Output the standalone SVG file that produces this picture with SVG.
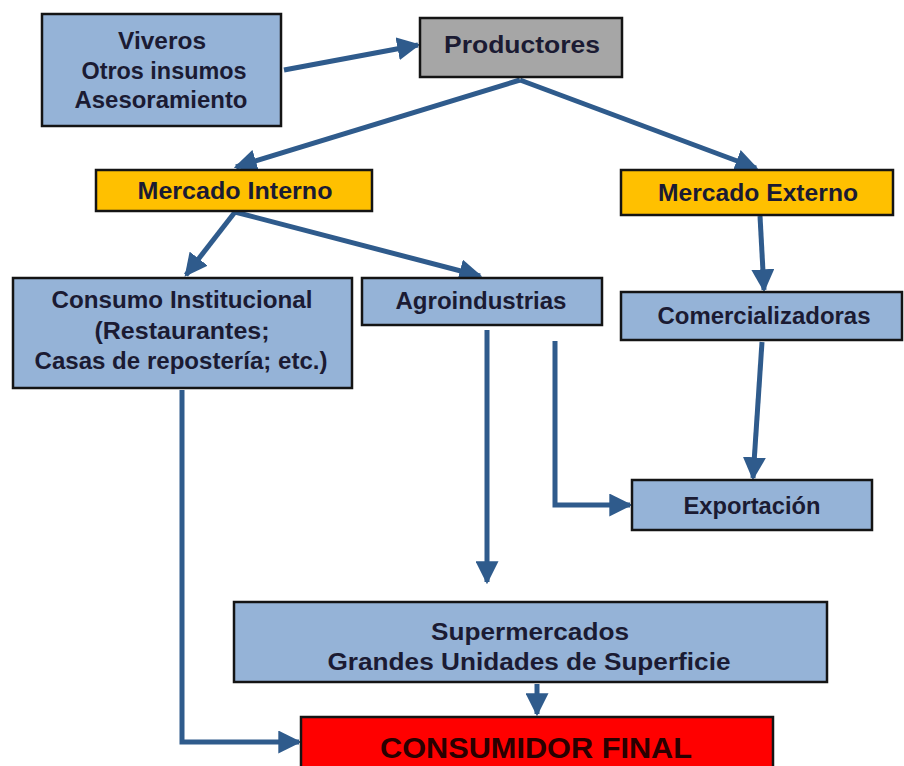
<svg xmlns="http://www.w3.org/2000/svg" width="904" height="766" viewBox="0 0 904 766">
<defs>
<style>
.box{stroke:#141414;stroke-width:2.5}
.blue{fill:#95b3d7}
.gray{fill:#a6a6a6}
.orange{fill:#ffc000}
.red{fill:#ff0000}
text{font-family:"Liberation Sans",Arial,sans-serif;font-weight:bold;font-size:23.5px;fill:#1b1b33;text-anchor:middle;dominant-baseline:central}
.big{font-size:29px;fill:#2a0000}
.conn{stroke:#2f5b8c;stroke-width:5;fill:none}
</style>
<marker id="ah" viewBox="0 0 10 10" refX="9" refY="5" markerWidth="4.6" markerHeight="4.6" orient="auto" markerUnits="strokeWidth">
<path d="M0,0 L10,5 L0,10 z" fill="#2f5b8c"/>
</marker>
</defs>
<rect width="904" height="766" fill="#ffffff"/>
<g id="connectors">
<line class="conn" x1="284" y1="70" x2="418" y2="45" marker-end="url(#ah)"/>
<line class="conn" x1="520" y1="80" x2="236" y2="167" marker-end="url(#ah)"/>
<line class="conn" x1="520" y1="80" x2="756" y2="168" marker-end="url(#ah)"/>
<line class="conn" x1="235" y1="212" x2="186" y2="275" marker-end="url(#ah)"/>
<line class="conn" x1="235" y1="212" x2="480" y2="276" marker-end="url(#ah)"/>
<line class="conn" x1="760" y1="216" x2="764" y2="290" marker-end="url(#ah)"/>
<line class="conn" x1="762" y1="342" x2="753" y2="478" marker-end="url(#ah)"/>
<line class="conn" x1="487" y1="330" x2="487" y2="582" marker-end="url(#ah)"/>
<polyline class="conn" points="555,341 555,505 630,505" marker-end="url(#ah)"/>
<line class="conn" x1="537" y1="684" x2="537" y2="714" marker-end="url(#ah)"/>
<polyline class="conn" points="182,390 182,742 299,742" marker-end="url(#ah)"/>
</g>
<g id="viveros">
<rect class="box blue" x="42" y="14" width="239" height="112"/>
<text x="162" y="41" textLength="88" lengthAdjust="spacingAndGlyphs">Viveros</text>
<text x="164" y="71" textLength="165" lengthAdjust="spacingAndGlyphs">Otros insumos</text>
<text x="161" y="100" textLength="173" lengthAdjust="spacingAndGlyphs">Asesoramiento</text>
</g>
<g id="productores">
<rect class="box gray" x="420" y="18" width="202" height="59"/>
<text x="522" y="45" textLength="156" lengthAdjust="spacingAndGlyphs">Productores</text>
</g>
<g id="mercado-interno">
<rect class="box orange" x="96" y="170" width="276" height="41"/>
<text x="235" y="191" textLength="195" lengthAdjust="spacingAndGlyphs">Mercado Interno</text>
</g>
<g id="mercado-externo">
<rect class="box orange" x="621" y="170" width="272" height="45"/>
<text x="758" y="193" textLength="200" lengthAdjust="spacingAndGlyphs">Mercado Externo</text>
</g>
<g id="consumo-institucional">
<rect class="box blue" x="13" y="278" width="339" height="110"/>
<text x="182" y="300" textLength="261" lengthAdjust="spacingAndGlyphs">Consumo Institucional</text>
<text x="182" y="331" textLength="175" lengthAdjust="spacingAndGlyphs">(Restaurantes;</text>
<text x="181" y="361" textLength="293" lengthAdjust="spacingAndGlyphs">Casas de repostería; etc.)</text>
</g>
<g id="agroindustrias">
<rect class="box blue" x="362" y="278" width="240" height="47"/>
<text x="481" y="301" textLength="171" lengthAdjust="spacingAndGlyphs">Agroindustrias</text>
</g>
<g id="comercializadoras">
<rect class="box blue" x="621" y="292" width="281" height="48"/>
<text x="764" y="316" textLength="213" lengthAdjust="spacingAndGlyphs">Comercializadoras</text>
</g>
<g id="exportacion">
<rect class="box blue" x="632" y="480" width="240" height="50"/>
<text x="752" y="506" textLength="137" lengthAdjust="spacingAndGlyphs">Exportación</text>
</g>
<g id="supermercados">
<rect class="box blue" x="234" y="602" width="593" height="80"/>
<text x="530" y="632" textLength="198" lengthAdjust="spacingAndGlyphs">Supermercados</text>
<text x="529" y="662" textLength="403" lengthAdjust="spacingAndGlyphs">Grandes Unidades de Superficie</text>
</g>
<g id="consumidor-final">
<rect class="box red" x="301" y="717" width="472" height="60"/>
<text class="big" x="536" y="748" textLength="312" lengthAdjust="spacingAndGlyphs">CONSUMIDOR FINAL</text>
</g>
</svg>
